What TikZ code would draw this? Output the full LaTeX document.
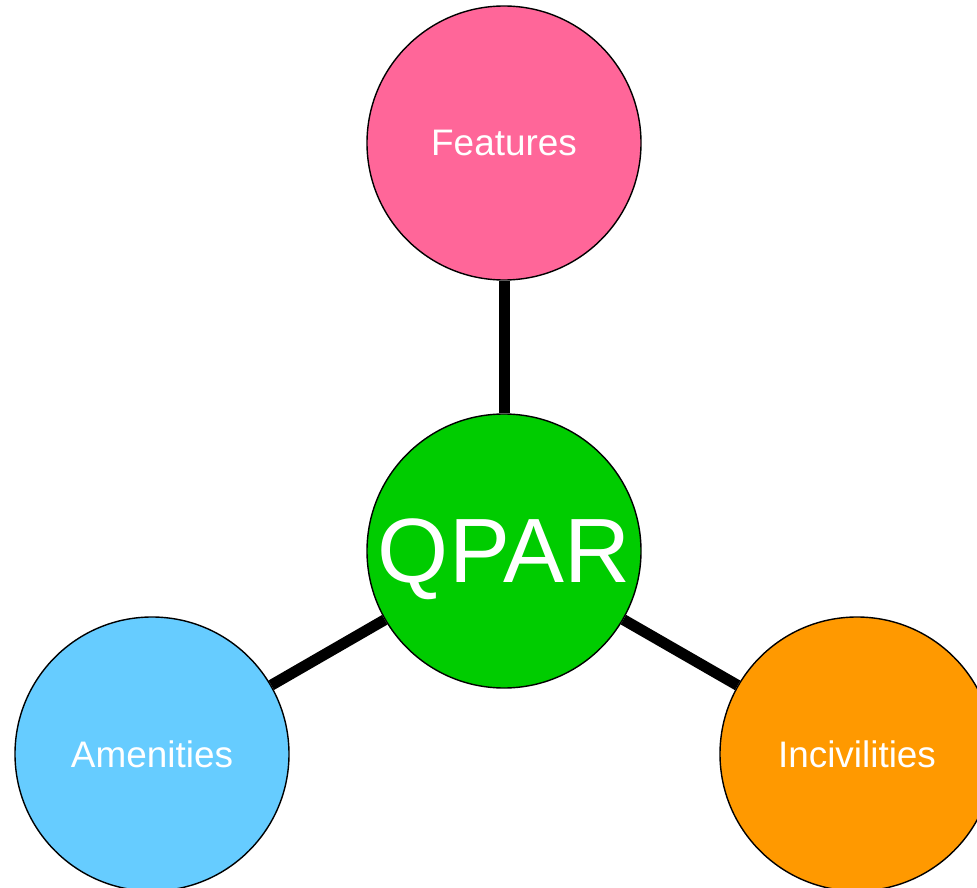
\documentclass[tikz,border=0pt]{standalone}
\usepackage{fontspec}
\setmainfont{Liberation Sans}
\definecolor{featpink}{HTML}{FF6699}
\definecolor{qpargreen}{HTML}{00CC00}
\definecolor{amenblue}{HTML}{66CCFF}
\definecolor{inciorange}{HTML}{FF9900}
\begin{document}
\begin{tikzpicture}[bubble/.style={circle,draw,line width=0.8pt,minimum size=5.48cm,inner sep=0pt,text=white,font=\fontsize{21}{25}\selectfont},
		spoke/.style={line width=0.22cm}]
		\useasboundingbox (0,0) rectangle (19.54,-17.76);

		% Centre
		\node[bubble, fill=qpargreen, text depth=0pt, font=\fontsize{52}{62}\selectfont] (QPAR) at (10.08,-11.02) {QPAR};

		% Outer circles
		\node[bubble, fill=featpink] (Feat) at (10.08,-2.86) {Features};
		\node[bubble, fill=amenblue] (Amen) at (3.04,-15.08) {Amenities};
		\node[bubble, fill=inciorange] (Inci) at (17.14,-15.08) {Incivilities};

		\draw[spoke] (QPAR) -- (Feat);
		\draw[spoke] (QPAR) -- (Amen);
		\draw[spoke] (QPAR) -- (Inci);
	\end{tikzpicture}
\end{document}
